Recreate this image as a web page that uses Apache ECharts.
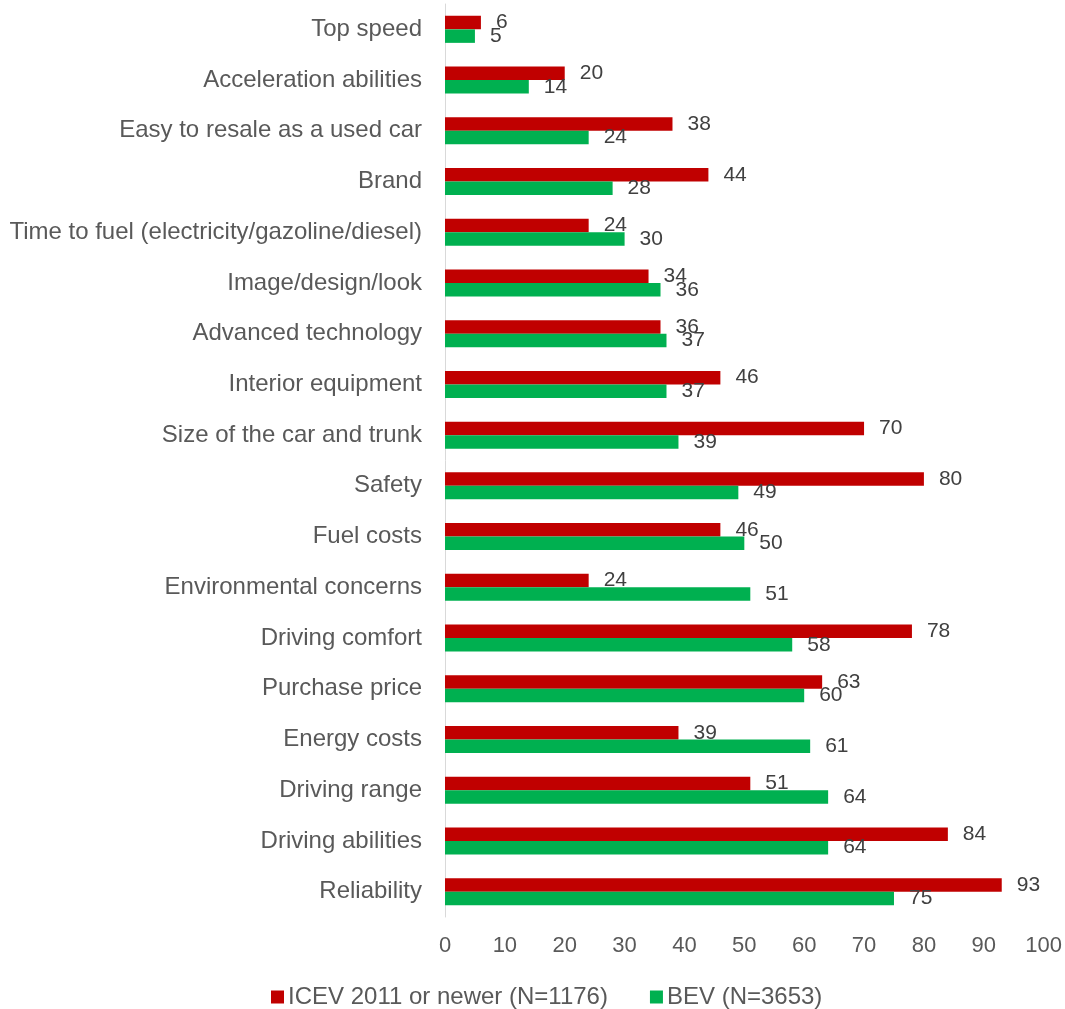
<!DOCTYPE html>
<html>
<head>
<meta charset="utf-8">
<script src="https://cdn.jsdelivr.net/npm/echarts@6/dist/echarts.min.js"></script>
<style>
  html, body { margin: 0; padding: 0; background: #fff; }
  #chart { width: 1065px; height: 1009px; }
</style>
</head>
<body>
<div id="chart"></div>
<script>
// categories, top to bottom
var categories = [
    'Top speed', 'Acceleration abilities', 'Easy to resale as a used car', 'Brand',
    'Time to fuel (electricity/gazoline/diesel)', 'Image/design/look', 'Advanced technology',
    'Interior equipment', 'Size of the car and trunk', 'Safety', 'Fuel costs',
    'Environmental concerns', 'Driving comfort', 'Purchase price', 'Energy costs',
    'Driving range', 'Driving abilities', 'Reliability'
];
var icevValues = [6, 20, 38, 44, 24, 34, 36, 46, 70, 80, 46, 24, 78, 63, 39, 51, 84, 93];
var bevValues = [5, 14, 24, 28, 30, 36, 37, 37, 39, 49, 50, 51, 58, 60, 61, 64, 64, 75];
var xTicks = [0, 10, 20, 30, 40, 50, 60, 70, 80, 90, 100];

var chart = echarts.init(document.getElementById('chart'));

var font = '"Liberation Sans", Arial, sans-serif';

var labelStyle = {
    show: true,
    position: 'right',
    distance: 15,
    color: '#404040',
    fontSize: 21,
    fontFamily: font
};

var option = {
    animation: false,
    textStyle: { fontFamily: font },
    legend: {
        top: 980,
        left: 266,
        itemWidth: 13,
        itemHeight: 13,
        itemGap: 42,
        icon: 'rect',
        textStyle: { color: '#595959', fontSize: 24, fontFamily: font, padding: [0, 0, 0, -1] },
        data: ['ICEV 2011 or newer (N=1176)', 'BEV (N=3653)']
    },
    grid: {
        left: 445,
        right: 20,
        top: 4,
        bottom: 92,
        containLabel: false
    },
    xAxis: {
        type: 'value',
        min: 0,
        max: 100,
        interval: 10,
        axisLine: { show: false },
        axisTick: { show: false },
        splitLine: { show: false },
        axisLabel: {
            color: '#595959',
            fontSize: 22,
            fontFamily: font,
            margin: 18,
            formatter: function (v) { return xTicks.indexOf(v) >= 0 ? String(v) : ''; }
        }
    },
    yAxis: {
        type: 'category',
        inverse: true,
        data: categories,
        axisLine: { show: true, lineStyle: { color: '#d9d9d9', width: 1 } },
        axisTick: { show: false },
        axisLabel: { color: '#595959', fontSize: 24, fontFamily: font, margin: 23 }
    },
    series: [
        {
            name: 'ICEV 2011 or newer (N=1176)',
            type: 'bar',
            data: icevValues,
            barWidth: 13.5,
            barGap: '0%',
            itemStyle: { color: '#C00000' },
            label: labelStyle
        },
        {
            name: 'BEV (N=3653)',
            type: 'bar',
            data: bevValues,
            barWidth: 13.5,
            barGap: '0%',
            itemStyle: { color: '#00B050' },
            label: labelStyle
        }
    ]
};
chart.setOption(option);
</script>
</body>
</html>
